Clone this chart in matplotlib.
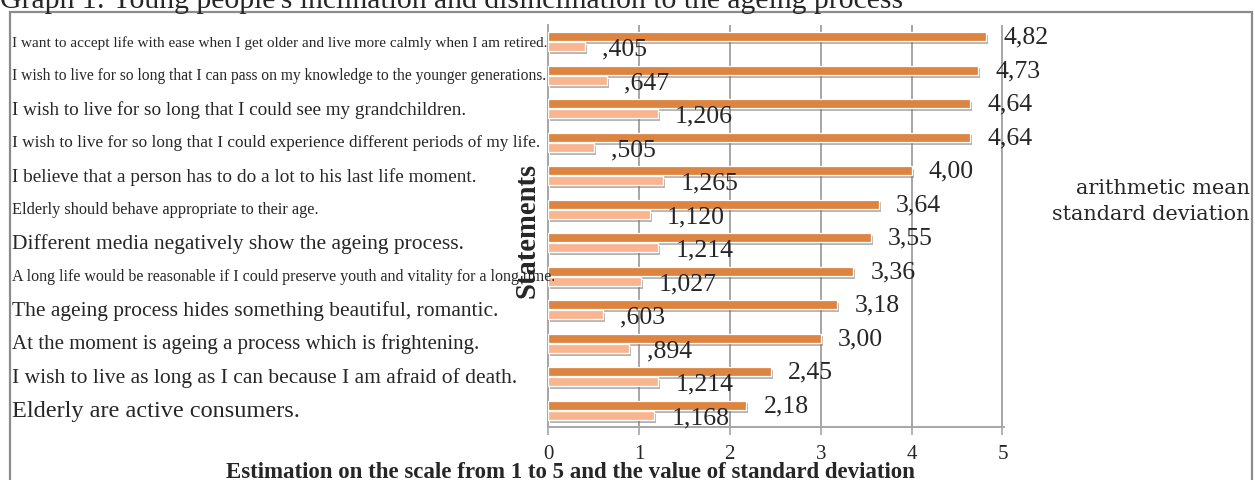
import matplotlib
matplotlib.use("Agg")
import matplotlib.pyplot as plt
import matplotlib.patheffects as pe
from matplotlib.patches import Rectangle
from matplotlib.transforms import blended_transform_factory


# ============================================================
# Chart data (top to bottom as in the reference).
# ============================================================

statements = [
    "I want to accept life with ease when I get older and live more calmly when I am retired.",
    "I wish to live for so long that I can pass on my knowledge to the younger generations.",
    "I wish to live for so long that I could see my grandchildren.",
    "I wish to live for so long that I could experience different periods of my life.",
    "I believe that a person has to do a lot to his last life moment.",
    "Elderly should behave appropriate to their age.",
    "Different media negatively show the ageing process.",
    "A long life would be reasonable if I could preserve youth and vitality for a long time.",
    "The ageing process hides something beautiful, romantic.",
    "At the moment is ageing a process which is frightening.",
    "I wish to live as long as I can because I am afraid of death.",
    "Elderly are active consumers.",
]

mean_values = [4.82, 4.73, 4.64, 4.64, 4.00, 3.64, 3.55, 3.36, 3.18, 3.00, 2.45, 2.18]
mean_labels = ["4,82", "4,73", "4,64", "4,64", "4,00", "3,64", "3,55", "3,36", "3,18", "3,00", "2,45", "2,18"]

std_values = [0.405, 0.647, 1.206, 0.505, 1.265, 1.120, 1.214, 1.027, 0.603, 0.894, 1.214, 1.168]
std_labels = [",405", ",647", "1,206", ",505", "1,265", "1,120", "1,214", "1,027", ",603", ",894", "1,214", "1,168"]

# how wide each statement is drawn in the reference (pixels)
label_widths = [533, 533, 454, 527, 465, 305, 452, 543, 485, 466, 505, 288]

x_ticks = [0, 1, 2, 3, 4, 5]

title = "Graph 1: Young people's inclination and disinclination to the ageing process"
x_title = "Estimation on the scale from 1 to 5 and the value of standard deviation"
y_title = "Statements"
legend_names = ["arithmetic mean", "standard deviation"]


# ============================================================
# Figure and styling.
# ============================================================

W, H = 1255, 481
fig = plt.figure(figsize=(W / 100, H / 100), dpi=100)
renderer = fig.canvas.get_renderer()

MEAN_COLOR = "#DC8440"
STD_COLOR = "#F8B590"
GRID_COLOR = "#A6A6A6"
TEXT_COLOR = "#262626"
SERIF = "Liberation Serif"


def fit_size(text, target_px, **kw):
    probe = fig.text(0, 0, text, fontsize=20, **kw)
    width = probe.get_window_extent(renderer=renderer).width
    probe.remove()
    return 20 * target_px / width


ax = fig.add_axes([548 / W, 53 / H, 456.3 / W, 402 / H])

positions = list(range(len(statements)))
mean_pos = [p - 0.15 for p in positions]
std_pos = [p + 0.15 for p in positions]

shadow = [pe.SimplePatchShadow(offset=(1.5, -2), shadow_rgbFace="#6f6f6f", alpha=0.5), pe.Normal()]

mean_bars = ax.barh(mean_pos, mean_values, height=0.27, color=MEAN_COLOR,
                    edgecolor="white", linewidth=0.9, zorder=3)
std_bars = ax.barh(std_pos, std_values, height=0.27, color=STD_COLOR,
                   edgecolor="white", linewidth=0.9, zorder=3)
for bar in list(mean_bars) + list(std_bars):
    bar.set_path_effects(shadow)

ax.set_xlim(0, 5.02)
ax.set_ylim(len(statements) - 0.5, -0.5)

ax.set_xticks(x_ticks)
ax.set_xticklabels([str(t) for t in x_ticks], family=SERIF, fontsize=15, color=TEXT_COLOR)
ax.tick_params(axis="x", length=6, width=1.2, color=GRID_COLOR, pad=6)
ax.set_yticks([])

ax.grid(axis="x", color=GRID_COLOR, linewidth=1.4, zorder=0)
for side in ["top", "right"]:
    ax.spines[side].set_visible(False)
for side in ["left", "bottom"]:
    ax.spines[side].set_color(GRID_COLOR)
    ax.spines[side].set_linewidth(1.4)


# ============================================================
# Value labels next to each bar.
# ============================================================

for value, y, text in zip(mean_values, mean_pos, mean_labels):
    ax.annotate(text, (value, y), xytext=(12.5, 0), textcoords="offset points",
                ha="left", va="center", family=SERIF, fontsize=18.5,
                color=TEXT_COLOR, zorder=5)

for value, y, text in zip(std_values, std_pos, std_labels):
    ax.annotate(text, (value, y), xytext=(12.5, -1.5), textcoords="offset points",
                ha="left", va="center", family=SERIF, fontsize=18.5,
                color=TEXT_COLOR, zorder=5)


# ============================================================
# Statement labels on the left, fitted to their width.
# ============================================================

label_trans = blended_transform_factory(fig.transFigure, ax.transData)
for y, text, width in zip(positions, statements, label_widths):
    size = fit_size(text, width, family=SERIF)
    ax.text(12 / W, y, text, transform=label_trans, ha="left", va="center",
            family=SERIF, fontsize=size, color=TEXT_COLOR, clip_on=False)

size = fit_size(y_title, 135, family=SERIF, weight="bold")
fig.text(527 / W, 1 - 230 / H, y_title, rotation=90, ha="center", va="center",
         family=SERIF, weight="bold", fontsize=size, color=TEXT_COLOR)

size = fit_size(x_title, 689, family=SERIF, weight="bold")
fig.text(570 / W, 1 - 473 / H, x_title, ha="center", va="center",
         family=SERIF, weight="bold", fontsize=size, color=TEXT_COLOR)


# ============================================================
# Legend texts, title and frame.
# ============================================================

size = fit_size(legend_names[1], 197, family="DejaVu Serif")
for name, y_px in zip(legend_names, [189, 215]):
    fig.text(1250 / W, 1 - y_px / H, name, ha="right", va="center",
             family="DejaVu Serif", fontsize=size, color=TEXT_COLOR)

size = fit_size(title, 903, family=SERIF)
fig.text(0, 1 - 8 / H, title, ha="left", va="baseline",
         family=SERIF, fontsize=size, color=TEXT_COLOR)

fig.patches.append(Rectangle((10 / W, -0.1), 1242 / W, 1.1 - 13 / H, fill=False,
                             edgecolor="#8C8C8C", linewidth=1.6,
                             transform=fig.transFigure, figure=fig))

fig.savefig("out.png", dpi=100)
